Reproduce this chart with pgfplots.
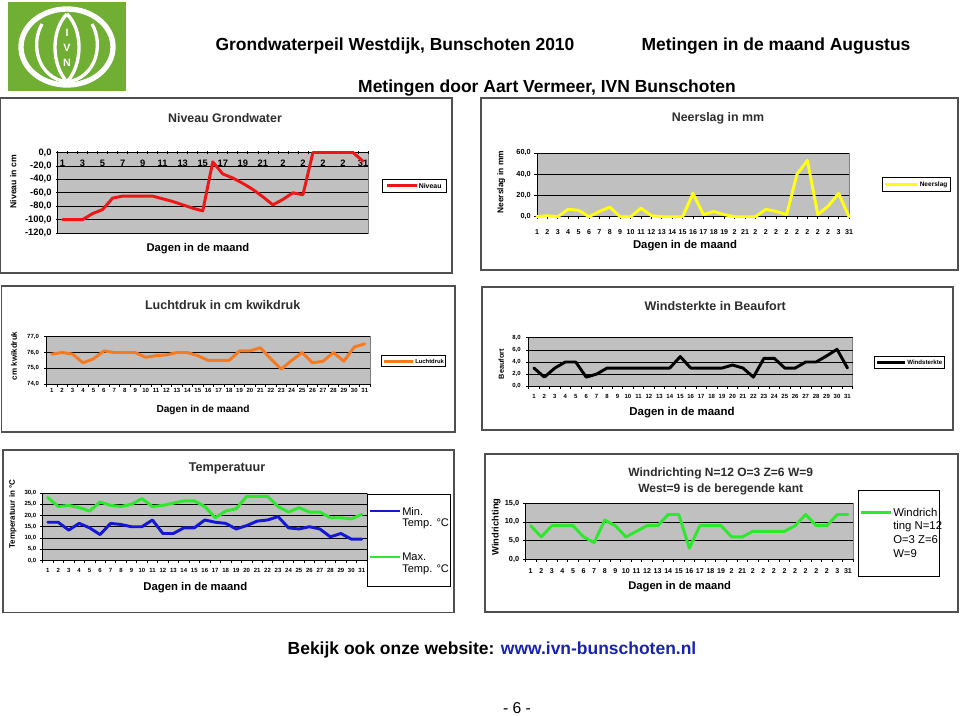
\documentclass[border=0pt]{standalone}
\usepackage{pgfplots}
\pgfplotsset{compat=1.18}
\usepackage{fontspec}
\setmainfont{Liberation Sans}
\definecolor{pgray}{RGB}{192,192,192}
\definecolor{xred}{RGB}{238,22,22}
\definecolor{xyellow}{RGB}{255,255,20}
\definecolor{xorange}{RGB}{245,122,32}
\definecolor{xblue}{RGB}{22,22,215}
\definecolor{xgreen}{RGB}{45,232,45}
\definecolor{logogreen}{RGB}{112,174,52}
\definecolor{urlblue}{RGB}{25,35,170}
\definecolor{framegray}{RGB}{80,80,80}
\definecolor{titlegray}{RGB}{45,45,45}
\newcommand\fsz[1]{\fontsize{#1}{#1}\selectfont}

\pgfplotsset{
  xl/.style={
    scale only axis, anchor=north west, clip=false,
    axis background/.style={fill=pgray, draw=black!50, line width=0.5pt},
    axis line style={black, line width=0.7pt},
    ymajorgrids, grid style={black, line width=0.6pt},
    tick align=outside, major tick length=2pt, minor tick length=2pt,
    every tick/.style={black, line width=0.5pt},
    /pgf/number format/assume math mode=true,
    scaled y ticks=false,
    yticklabel style={/pgf/number format/fixed, /pgf/number format/fixed zerofill, /pgf/number format/precision=1, /pgf/number format/use comma, /pgf/number format/assume math mode=true},
    every axis plot/.append style={line width=2.2pt, line join=round, line cap=round, mark=none},
  },
  half/.style={xmin=0.5, xmax=31.5, xtick={0.5,1.5,...,31.5}, xticklabels={},
    extra x ticks={1,...,31}, extra x tick style={major tick length=0pt}},
}

\begin{document}
\begin{tikzpicture}
\begin{scope}[x=0.75pt,y=-0.75pt]
\useasboundingbox (0,0) rectangle (960,716);
\fill[white] (0,0) rectangle (960,716);
% logo
\fill[logogreen] (8,2) rectangle (126,91);
\draw[white, line width=4pt] (67,47) ellipse [x radius=46, y radius=38];
\draw[white, line width=2.5pt] (67,14) .. controls (83,30) and (83,64) .. (67,82) .. controls (51,64) and (51,30) .. (67,14);
\draw[white, line width=2.5pt] (67,82) .. controls (38,78) and (30,45) .. (42,24);
\draw[white, line width=2.5pt] (67,82) .. controls (96,78) and (104,45) .. (92,24);
\node[white, inner sep=0] at (67,33) {\fsz{8}\bfseries I};
\node[white, inner sep=0] at (67,48) {\fsz{8}\bfseries V};
\node[white, inner sep=0] at (67,63) {\fsz{8}\bfseries N};
% header
\node[inner sep=0] at (395,46) {\fsz{13.1}\bfseries Grondwaterpeil Westdijk, Bunschoten 2010};
\node[inner sep=0] at (776,46) {\fsz{13.1}\bfseries Metingen in de maand Augustus};
\node[inner sep=0] at (547,88) {\fsz{13.1}\bfseries Metingen door Aart Vermeer, IVN Bunschoten};
% footer
\node[inner sep=0] at (492,650) {\fsz{13.1}\bfseries Bekijk ook onze website: \textcolor{urlblue}{www.ivn-bunschoten.nl}};
\node[inner sep=0] at (517,708) {\fsz{11.8}- 6 -};
% frames
\draw[framegray, line width=0.8pt] (0.8,98) rectangle (452,273);
\draw[framegray, line width=0.8pt] (481,98) rectangle (958,270);
\draw[framegray, line width=0.8pt] (1.5,286) rectangle (455,432);
\draw[framegray, line width=0.8pt] (482,287) rectangle (953,430);
\draw[framegray, line width=0.8pt] (3,450) rectangle (454,612.5);
\draw[framegray, line width=0.8pt] (485,454) rectangle (958,612);
% titles
\node[inner sep=0, text=titlegray] at (225,118.3) {\fsz{9.3}\bfseries Niveau Grondwater};
\node[inner sep=0, text=titlegray] at (718,118.3) {\fsz{9.3}\bfseries Neerslag in mm};
\node[inner sep=0, text=titlegray] at (222.7,305) {\fsz{9.4}\bfseries Luchtdruk in cm kwikdruk};
\node[inner sep=0, text=titlegray] at (715.3,306) {\fsz{9.4}\bfseries Windsterkte in Beaufort};
\node[inner sep=0, text=titlegray] at (227,468) {\fsz{9.5}\bfseries Temperatuur};
\node[inner sep=0, text=titlegray] at (720.7,473.3) {\fsz{9}\bfseries Windrichting N=12 O=3 Z=6 W=9};
\node[inner sep=0, text=titlegray] at (720.7,489.3) {\fsz{9}\bfseries West=9 is de beregende kant};
% x labels
\node[inner sep=0] at (198,249) {\fsz{8.4}\bfseries Dagen in de maand};
\node[inner sep=0] at (685,245.7) {\fsz{8.5}\bfseries Dagen in de maand};
\node[inner sep=0] at (203,410) {\fsz{7.6}\bfseries Dagen in de maand};
\node[inner sep=0] at (682,412.3) {\fsz{8.6}\bfseries Dagen in de maand};
\node[inner sep=0] at (195.3,587.3) {\fsz{8.5}\bfseries Dagen in de maand};
\node[inner sep=0] at (679.7,586.7) {\fsz{8.4}\bfseries Dagen in de maand};
% y labels
\node[inner sep=0, rotate=90] at (13.3,181.7) {\fsz{6.5}\bfseries Niveau in cm};
\node[inner sep=0, rotate=90] at (501.3,182.2) {\fsz{6.3}\bfseries Neerslag in mm};
\node[inner sep=0, rotate=90] at (14,355.8) {\fsz{6}\bfseries cm kwikdruk};
\node[inner sep=0, rotate=90] at (501.3,364) {\fsz{5.5}\bfseries Beaufort};
\node[inner sep=0, rotate=90] at (12.7,514) {\fsz{6}\bfseries Temperatuur in °C};
\node[inner sep=0, rotate=90] at (496.3,527) {\fsz{7}\bfseries Windrichting};
% anchor coordinates
\coordinate (P1) at (57.5,152.5);
\coordinate (P2) at (537,153);
\coordinate (P3) at (46.5,336.7);
\coordinate (P4) at (528.7,337.8);
\coordinate (P5) at (42.5,493);
\coordinate (P6) at (525.4,503.3);
\end{scope}

% ---- Chart 1: Niveau Grondwater
\begin{axis}[xl, at={(P1)}, width=232.9pt, height=60.4pt,
  axis x line*=top, axis y line*=left, tick align=center,
  half, extra x ticks={1,3,...,31},
  extra x tick labels={1,3,5,7,9,11,13,15,17,19,21,2,2,2,2,31},
  ymin=-120, ymax=0, ytick={-120,-100,...,0},
  xticklabel style={font=\fsz{7}\bfseries, anchor=center, inner sep=0pt, yshift=-8.1pt},
  yticklabel style={font=\fsz{7}\bfseries, anchor=east, inner sep=0pt, xshift=-3.3pt}]
\addplot[xred] coordinates {(1,-100)(2,-100)(3,-100)(4,-91)(5,-85)(6,-68)(7,-65)(8,-65)(9,-65)(10,-65)(11,-69)(12,-73)(13,-78)(14,-83)(15,-87)(16,-14)(17,-32)(18,-38)(19,-46)(20,-55)(21,-66)(22,-78)(23,-70)(24,-60)(25,-63)(26,0)(27,0)(28,0)(29,0)(30,0)(31,-13)};
\end{axis}

% ---- Chart 2: Neerslag
\begin{axis}[xl, at={(P2)}, width=234pt, height=47.8pt,
  axis lines*=left,
  xmin=1, xmax=31, xtick={1,...,31},
  xticklabels={1,2,3,4,5,6,7,8,9,10,11,12,13,14,15,16,17,18,19,2,21,2,2,2,2,2,2,2,2,3,31},
  ymin=0, ymax=60, ytick={0,20,40,60},
  xticklabel style={font=\fsz{5.3}\bfseries, anchor=center, inner sep=0pt, yshift=-9.5pt},
  yticklabel style={font=\fsz{5.5}\bfseries, anchor=east, inner sep=0pt, xshift=-2.5pt}]
\addplot[xyellow] coordinates {(1,0)(2,1)(3,0)(4,7)(5,6)(6,0)(7,5)(8,9)(9,0)(10,0)(11,8)(12,1)(13,0)(14,0)(15,0)(16,22)(17,2)(18,5)(19,2)(20,0)(21,0)(22,0)(23,7)(24,5)(25,2)(26,40)(27,53)(28,2)(29,10)(30,22)(31,0)};
\end{axis}

% ---- Chart 3: Luchtdruk
\begin{axis}[xl, at={(P3)}, width=242.6pt, height=35.6pt,
  axis lines*=left, half,
  ymin=74, ymax=77, ytick={74,75,76,77},
  xticklabel style={font=\fsz{4.5}\bfseries, anchor=center, inner sep=0pt, yshift=-4.5pt},
  yticklabel style={font=\fsz{4.5}\bfseries, anchor=east, inner sep=0pt, xshift=-3.5pt}]
\addplot[xorange] coordinates {(1,75.9)(2,76.0)(3,75.9)(4,75.35)(5,75.6)(6,76.1)(7,76.0)(8,76.0)(9,76.0)(10,75.7)(11,75.8)(12,75.85)(13,76.0)(14,76.0)(15,75.8)(16,75.5)(17,75.5)(18,75.5)(19,76.1)(20,76.1)(21,76.3)(22,75.6)(23,74.95)(24,75.5)(25,76.0)(26,75.35)(27,75.45)(28,76.0)(29,75.45)(30,76.35)(31,76.55)};
\end{axis}

% ---- Chart 4: Windsterkte
\begin{axis}[xl, at={(P4)}, width=243pt, height=36.3pt,
  axis lines*=left, half,
  ymin=0, ymax=8, ytick={0,2,4,6,8},
  xticklabel style={font=\fsz{4.5}\bfseries, anchor=center, inner sep=0pt, yshift=-7.5pt},
  yticklabel style={font=\fsz{4.5}\bfseries, anchor=east, inner sep=0pt, xshift=-3.8pt}]
\addplot[black] coordinates {(1,3)(2,1.5)(3,3)(4,4)(5,4)(6,1.5)(7,2)(8,3)(9,3)(10,3)(11,3)(12,3)(13,3)(14,3)(15,4.9)(16,3)(17,3)(18,3)(19,3)(20,3.5)(21,3)(22,1.5)(23,4.6)(24,4.6)(25,3)(26,3)(27,4)(28,4)(29,5)(30,6.1)(31,3)};
\end{axis}

% ---- Chart 5: Temperatuur
\begin{axis}[xl, at={(P5)}, width=243.4pt, height=50.6pt,
  axis lines*=left, half,
  ymin=0, ymax=30, ytick={0,5,...,30},
  xticklabel style={font=\fsz{4.5}\bfseries, anchor=center, inner sep=0pt, yshift=-7.5pt},
  yticklabel style={font=\fsz{4.5}\bfseries, anchor=east, inner sep=0pt, xshift=-2.5pt}]
\addplot[xblue] coordinates {(1,17)(2,17)(3,13.5)(4,16.5)(5,14.5)(6,11.5)(7,16.5)(8,16)(9,15)(10,15)(11,18)(12,12)(13,12)(14,14.5)(15,14.5)(16,18)(17,17)(18,16.5)(19,14)(20,15.5)(21,17.5)(22,18)(23,19.5)(24,14.5)(25,14)(26,15)(27,14)(28,10.5)(29,12)(30,9.5)(31,9.5)};
\addplot[xgreen] coordinates {(1,28)(2,24)(3,24.5)(4,23.5)(5,22)(6,26)(7,24.5)(8,24)(9,25)(10,27.5)(11,24)(12,24.5)(13,25.5)(14,26.5)(15,26.5)(16,24)(17,19)(18,22)(19,23)(20,28.5)(21,28.5)(22,28.5)(23,24)(24,21.5)(25,23.5)(26,21.5)(27,21.5)(28,19)(29,19)(30,18.5)(31,20.5)};
\end{axis}

% ---- Chart 6: Windrichting
\begin{axis}[xl, at={(P6)}, width=245.9pt, height=42pt,
  axis lines*=left, half,
  extra x tick labels={1,2,3,4,5,6,7,8,9,10,11,12,13,14,15,16,17,18,19,2,21,2,2,2,2,2,2,2,2,3,31},
  ymin=0, ymax=15, ytick={0,5,10,15},
  xticklabel style={font=\fsz{5.3}\bfseries, anchor=center, inner sep=0pt, yshift=-9pt},
  yticklabel style={font=\fsz{5.5}\bfseries, anchor=east, inner sep=0pt, xshift=-2.5pt}]
\addplot[xgreen] coordinates {(1,9)(2,6)(3,9)(4,9)(5,9)(6,6)(7,4.5)(8,10.5)(9,9)(10,6)(11,7.5)(12,9)(13,9)(14,12)(15,12)(16,3)(17,9)(18,9)(19,9)(20,6)(21,6)(22,7.5)(23,7.5)(24,7.5)(25,7.5)(26,9)(27,12)(28,9)(29,9)(30,12)(31,12)};
\end{axis}

% ---- legends
\begin{scope}[x=0.75pt,y=-0.75pt]
\draw[black, line width=0.6pt, fill=white] (382.3,179) rectangle (446,192.7);
\draw[xred, line width=2.2pt] (386.5,185.8) -- (416.5,185.8);
\node[anchor=west, inner sep=0] at (418.5,185.8) {\fsz{5.2}\bfseries Niveau};

\draw[black, line width=0.6pt, fill=white] (882.3,177.3) rectangle (950.7,191.7);
\draw[xyellow, line width=2.2pt] (885.3,184.5) -- (917.3,184.5);
\node[anchor=west, inner sep=0] at (919.5,184.5) {\fsz{4.9}\bfseries Neerslag};

\draw[black, line width=0.6pt, fill=white] (381,355.7) rectangle (445.7,366.7);
\draw[xorange, line width=2.2pt] (384,361.2) -- (413,361.2);
\node[anchor=west, inner sep=0] at (415,361.2) {\fsz{4.4}\bfseries Luchtdruk};

\draw[black, line width=0.6pt, fill=white] (874.7,356.7) rectangle (944.7,368.3);
\draw[black, line width=2.2pt] (877,362.5) -- (905,362.5);
\node[anchor=west, inner sep=0] at (907,362.5) {\fsz{4.6}\bfseries Windsterkte};

\draw[black, line width=0.75pt, fill=white] (367.3,494) rectangle (450,586.7);
\draw[xblue, line width=2.2pt] (369.5,511) -- (400,511);
\node[anchor=west, inner sep=0] at (402,511) {\fsz{8.3}Min.};
\node[anchor=west, inner sep=0] at (402,524) {\fsz{8.3}Temp. °C};
\draw[xgreen, line width=2.2pt] (369.5,557) -- (400,557);
\node[anchor=west, inner sep=0] at (402,557) {\fsz{8.3}Max.};
\node[anchor=west, inner sep=0] at (402,570) {\fsz{8.3}Temp. °C};

\draw[black, line width=0.75pt, fill=white] (858,490) rectangle (939.7,576);
\draw[xgreen, line width=2.2pt] (861.3,512.7) -- (890.7,512.7);
\node[anchor=west, inner sep=0] at (893,512.7) {\fsz{8.5}Windrich};
\node[anchor=west, inner sep=0] at (893,526.7) {\fsz{8.5}ting N=12};
\node[anchor=west, inner sep=0] at (893,540) {\fsz{8.5}O=3 Z=6};
\node[anchor=west, inner sep=0] at (893,553.3) {\fsz{8.5}W=9};
\end{scope}
\end{tikzpicture}
\end{document}
